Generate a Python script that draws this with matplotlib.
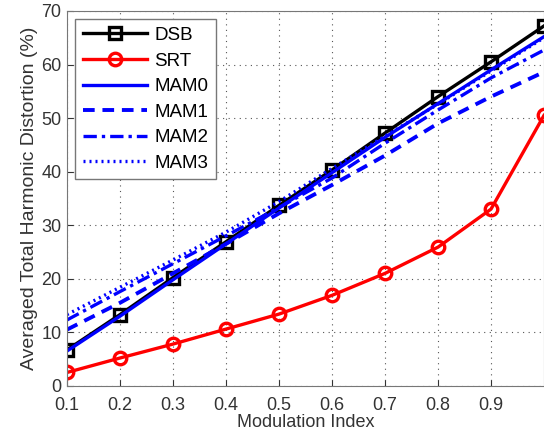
import matplotlib.pyplot as plt

plt.rcParams['font.family'] = ['Liberation Sans', 'DejaVu Sans']

# data
mod_index = [0.1, 0.2, 0.3, 0.4, 0.5, 0.6, 0.7, 0.8, 0.9, 1.0]
dsb = [6.7, 13.3, 20.2, 26.9, 33.7, 40.3, 47.2, 54.0, 60.5, 67.2]
srt = [2.5, 5.2, 7.8, 10.6, 13.4, 16.9, 21.0, 25.9, 33.0, 50.5]
mam0 = [6.5, 13.0, 19.8, 26.5, 33.2, 39.8, 46.4, 52.7, 59.0, 65.2]
mam1 = [10.5, 15.5, 21.0, 26.5, 32.2, 37.5, 43.0, 49.0, 54.0, 58.6]
mam2 = [12.3, 17.6, 22.8, 28.0, 33.3, 38.8, 45.3, 51.5, 57.5, 62.7]
mam3 = [13.3, 18.4, 23.5, 28.7, 34.4, 40.6, 46.6, 52.6, 58.8, 65.0]
xticks = [0.1, 0.2, 0.3, 0.4, 0.5, 0.6, 0.7, 0.8, 0.9]
yticks = [0, 10, 20, 30, 40, 50, 60, 70]

fig = plt.figure(figsize=(5.44, 4.38), dpi=100)
ax = fig.add_axes([0.123, 0.119, 0.877, 0.856])

ax.plot(mod_index, dsb, color='black', lw=2.4, marker='s', ms=9,
        mfc='none', mec='black', mew=2.4, label='DSB')
ax.plot(mod_index, srt, color='red', lw=2.4, marker='o', ms=9,
        mfc='none', mec='red', mew=2.4, label='SRT')
ax.plot(mod_index, mam0, color='blue', lw=2.4, ls='-', label='MAM0')
ax.plot(mod_index, mam1, color='blue', lw=2.8, ls=(0, (3, 2)), label='MAM1')
ax.plot(mod_index, mam2, color='blue', lw=2.4, ls=(0, (4, 1.5, 1, 1.5)), label='MAM2')
ax.plot(mod_index, mam3, color='blue', lw=2.4, ls=(0, (0.6, 1.2)), label='MAM3')

ax.set_xlim(0.1, 1.0)
ax.set_ylim(0, 70)
ax.set_xticks(xticks)
ax.set_yticks(yticks)
ax.tick_params(direction='in', labelsize=13, colors='#333333', length=4)
ax.tick_params(axis='x', pad=8)
ax.tick_params(axis='y', pad=4)
ax.grid(True, ls=(0, (1, 4)), color='#555555', lw=0.8)
for s in ax.spines.values():
    s.set_color('#777777')

ax.set_xlabel('Modulation Index', fontsize=13, color='#333333', labelpad=0)
ax.set_ylabel('Averaged Total Harmonic Distortion (%)', fontsize=14,
              color='#333333', labelpad=2)

leg = ax.legend(loc='upper left', fontsize=13.5, fancybox=False, framealpha=1,
                edgecolor='#777777', handlelength=3.4, borderaxespad=0.45,
                labelspacing=0.45, handletextpad=0.4, borderpad=0.4)
leg.get_frame().set_linewidth(1.0)

fig.savefig('out.png', dpi=100)
